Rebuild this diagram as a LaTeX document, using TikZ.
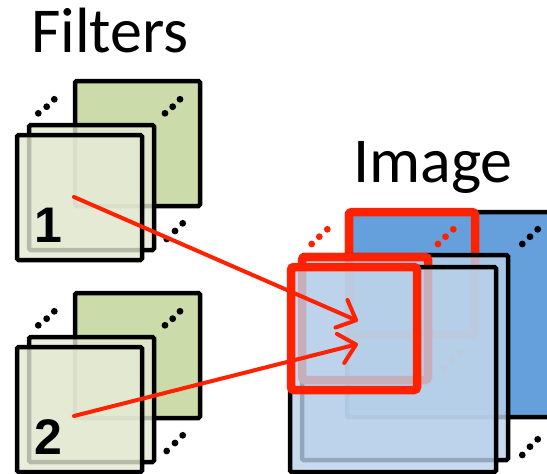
\documentclass[tikz,border=0pt]{standalone}
\usepackage{fontspec}
\setmainfont{Carlito}
\newfontfamily\digitfont{Liberation Sans}
\usetikzlibrary{arrows.meta}
\definecolor{fgreen}{HTML}{CCDBAA}
\definecolor{lgreen}{HTML}{E4E9D3}
\definecolor{iblue}{HTML}{65A0DC}
\definecolor{lblue}{HTML}{BAD1EA}
\definecolor{rred}{HTML}{FF2200}
\begin{document}
\begin{tikzpicture}[x=1pt,y=-1pt,
  sq/.style={draw=black, line width=4.5pt, rounded corners=1.5pt, rectangle,
    inner sep=0pt, outer sep=0pt, anchor=north west},
  fsq/.style={sq, minimum width=125pt, minimum height=125pt},
  isq/.style={sq, minimum width=206pt, minimum height=205pt},
  redsq/.style={draw=rred, line width=8.5pt, rounded corners=3pt, rectangle,
    inner sep=0pt, outer sep=0pt, anchor=north west,
    minimum width=126pt, minimum height=123pt},
  trans/.style={fill opacity=0.8},
  title/.style={font=\fontsize{64}{72}\selectfont, inner sep=0pt, anchor=base west},
  digit/.style={font=\digitfont\fontsize{50}{56}\selectfont\bfseries, inner sep=0pt},
  arr/.style={draw=rred, line width=4pt, line cap=round,
    -{Straight Barb[length=16pt,width=30pt,round]}},
  dotc/.style={fill=black},
  rdot/.style={fill=rred}]
\useasboundingbox (0,0) rectangle (547,474);
\clip (0,0) rectangle (547,474);

% titles
\node[title] (tf) at (31,52) {Filters};
\node[title] (ti) at (353,182) {Image};

% ---------- filter group 1 ----------
\node[fsq, fill=fgreen] (f1back) at (75,81) {};
\fill[dotc] (38.3,113.3) circle[radius=3.4pt] (46.7,106.7) circle[radius=3.4pt] (54.3,99.3) circle[radius=3.4pt];
\fill[dotc] (165,113.3) circle[radius=3.4pt] (172.7,106.7) circle[radius=3.4pt] (180,99.3) circle[radius=3.4pt];
\fill[dotc] (166.7,239) circle[radius=3.4pt] (175,231) circle[radius=3.4pt] (182.7,223.3) circle[radius=3.4pt];
\node[fsq, fill=lgreen, trans] (f1mid) at (29,125) {};
\node[fsq, fill=lgreen, trans] (f1front) at (17,135) {};
\node[digit] (n1) at (48,225) {1};
\coordinate (a1s) at (74,197);

% ---------- filter group 2 ----------
\node[fsq, fill=fgreen] (f2back) at (75,293) {};
\fill[dotc] (38.3,325.3) circle[radius=3.4pt] (46.7,318.7) circle[radius=3.4pt] (54.3,311.3) circle[radius=3.4pt];
\fill[dotc] (165,325.3) circle[radius=3.4pt] (172.7,318.7) circle[radius=3.4pt] (180,311.3) circle[radius=3.4pt];
\fill[dotc] (166.7,451) circle[radius=3.4pt] (175,443) circle[radius=3.4pt] (182.7,435.3) circle[radius=3.4pt];
\node[fsq, fill=lgreen, trans] (f2mid) at (29,337) {};
\node[fsq, fill=lgreen, trans] (f2front) at (17,347) {};
\node[digit] (n2) at (48,437) {2};
\coordinate (a2s) at (74,416);

% ---------- image ----------
\node[isq, fill=iblue] (iback) at (347,212) {};
\node[redsq] (rback) at (349,212) {};
\fill[rdot] (311.7,244) circle[radius=3.4pt] (319.3,236.7) circle[radius=3.4pt] (327.3,229.3) circle[radius=3.4pt];
\fill[rdot] (438,244) circle[radius=3.4pt] (445.5,236.7) circle[radius=3.4pt] (453.3,229.3) circle[radius=3.4pt];
\fill[rdot] (443.3,368.3) circle[radius=3.4pt] (451.7,360) circle[radius=3.4pt] (460,352.7) circle[radius=3.4pt];
\fill[dotc] (522.3,244) circle[radius=3.4pt] (530,236.7) circle[radius=3.4pt] (537.7,229.3) circle[radius=3.4pt];
\fill[dotc] (522.3,455) circle[radius=3.4pt] (530,446.7) circle[radius=3.4pt] (537.7,439.3) circle[radius=3.4pt];
\node[isq, fill=lblue, trans] (imid) at (302,255) {};
\node[redsq] (rmid) at (302,257) {};
\node[isq, fill=lblue, trans] (ifront) at (290,267) {};
\node[redsq] (rfront) at (291,267) {};
\coordinate (a1e) at (358,321);
\coordinate (a2e) at (358,344);

% arrows
\draw[arr] (a1s) -- (a1e);
\draw[arr] (a2s) -- (a2e);
\end{tikzpicture}
\end{document}
